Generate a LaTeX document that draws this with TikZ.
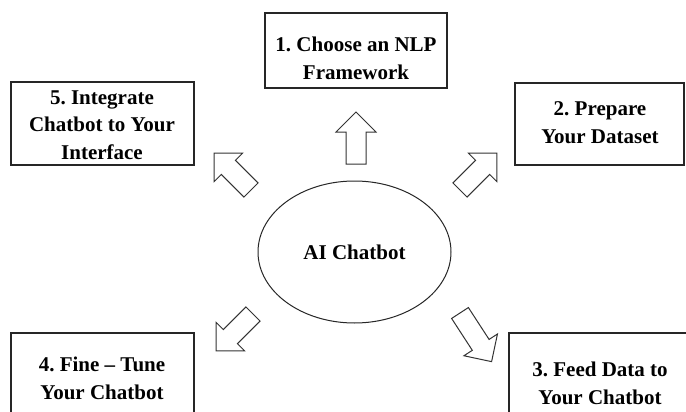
\documentclass[tikz,border=0pt]{standalone}
\usepackage{fontspec}
\setmainfont{Liberation Serif}
\usetikzlibrary{shapes.geometric}
\frenchspacing
\tikzset{
  box/.style={draw=black!85, line width=1.3pt},
  lbl/.style={align=center, font=\fontsize{21}{27.5}\selectfont\bfseries, inner sep=0pt},
  arrowline/.style={draw=black!80, line width=1pt, line join=miter},
  blockarrow/.pic={\draw[arrowline] (0,-10) -- (#1-20,-10) -- (#1-20,-20) -- (#1,0) -- (#1-20,20) -- (#1-20,10) -- (0,10) -- cycle;}
}
\begin{document}
\begin{tikzpicture}[x=1pt,y=-1pt]
\useasboundingbox (0,0) rectangle (686,412);
\clip (0,0) rectangle (686,412);
\fill[white] (0,0) rectangle (686,412);
% boxes
\draw[box] (265,13) rectangle (447,88);
\draw[box] (11,82) rectangle (194,165);
\draw[box] (515,83) rectangle (684,165);
\draw[box] (11,333) rectangle (194,421);
\draw[box] (509,333) rectangle (692,431);
% labels
\node[lbl] (t1) at (356,58.5) {1. Choose an NLP\\Framework};
\node[lbl] (t5) at (102,125) {5. Integrate\\Chatbot to Your\\Interface};
\node[lbl] (t2) at (600,122.5) {2. Prepare\\Your Dataset};
\node[lbl] (t4) at (102,378.5) {4. Fine – Tune\\Your Chatbot};
\node[lbl] (t3) at (600,383.5) {3. Feed Data to\\Your Chatbot};
% centre
\node[ellipse, draw=black!85, line width=1pt, minimum width=193pt, minimum height=142pt, font=\fontsize{21}{25}\selectfont\bfseries] (c) at (354.5,252) {AI Chatbot};
% block arrows
\pic[rotate=90] at (356,164) {blockarrow=52};
\pic[rotate=135] at (251,190) {blockarrow=52};
\pic[rotate=45] at (460,190) {blockarrow=52};
\pic[rotate=225] at (253,314) {blockarrow=52};
\pic[rotate=-57] at (460,313) {blockarrow=58};
\end{tikzpicture}
\end{document}
